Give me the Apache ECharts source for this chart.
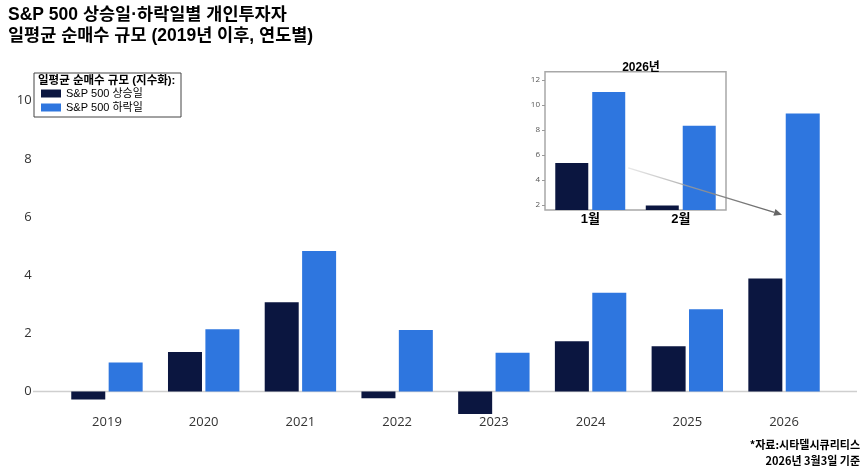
<!DOCTYPE html>
<html>
<head>
<meta charset="utf-8">
<script src="https://cdn.jsdelivr.net/npm/echarts@6/dist/echarts.min.js"></script>
<style>
html,body{margin:0;padding:0;background:#fff;}
#main{width:866px;height:467px;}
</style>
</head>
<body>
<div id="main"></div>
<script>
// ---- data ----
const years = ['2019','2020','2021','2022','2023','2024','2025','2026'];
const upDays = [-0.27, 1.36, 3.07, -0.23, -0.77, 1.73, 1.56, 3.89];
const downDays = [1.00, 2.14, 4.83, 2.12, 1.33, 3.40, 2.83, 9.56];
const months2026 = ['1월','2월'];
const upDays2026 = [5.36, 1.95];
const downDays2026 = [11.04, 8.34];
const mainTicks = [0, 2, 4, 6, 8, 10];
const insetTicks = [2, 4, 6, 8, 10, 12];
const seriesNames = ['S&P 500 상승일', 'S&P 500 하락일'];

const DARK = '#0b1640';
const BLUE = '#2e76df';
const FONT = "'Open Sans','Noto Sans CJK KR',sans-serif";
const TFONT = "'Liberation Sans','Noto Sans CJK KR',sans-serif";

const chart = echarts.init(document.getElementById('main'), null, {renderer:'canvas'});

const option = {
  backgroundColor: '#fff',
  animation: false,
  title: [
    {
      text: 'S&P 500 상승일·하락일별 개인투자자\n일평균 순매수 규모 (2019년 이후, 연도별)',
      left: 3, top: 0,
      textStyle: {fontFamily: TFONT, fontSize: 17.5, fontWeight: 'bold', color: '#000', lineHeight: 21}
    },
    {
      text: '2026년',
      left: 636, top: 57, textAlign: 'center',
      textStyle: {fontFamily: TFONT, fontSize: 12, fontWeight: 'bold', color: '#000'}
    }
  ],
  legend: {
    data: seriesNames,
    orient: 'vertical',
    left: 41, top: 88,
    itemWidth: 20, itemHeight: 8, itemGap: 3,
    icon: 'rect',
    padding: 0,
    textStyle: {fontFamily: TFONT, fontSize: 11, color: '#000'}
  },
  grid: [
    {left: 58.6, right: 33.6, top: 42.6, bottom: 52.2, outerBoundsMode: 'none', containLabel: false},
    {left: 545, right: 140, top: 71.7, bottom: 257, outerBoundsMode: 'none', containLabel: false, show: true, borderColor: '#a8a8a8', borderWidth: 1.5, backgroundColor: '#fff', z: 5}
  ],
  xAxis: [
    {
      type: 'category', data: years, gridIndex: 0,
      axisLine: {show: false},
      axisTick: {show: false},
      axisLabel: {fontFamily: FONT, fontSize: 13, color: '#333', margin: 1}
    },
    {
      type: 'category', data: months2026, gridIndex: 1,
      axisLine: {show: false},
      axisTick: {show: false},
      axisLabel: {fontFamily: TFONT, fontSize: 13, fontWeight: 'bold', color: '#000', margin: 3},
      z: 6
    }
  ],
  yAxis: [
    {
      type: 'value', gridIndex: 0, min: -0.8, max: 12,
      axisLine: {show: false}, axisTick: {show: false}, splitLine: {show: false},
      axisLabel: {fontFamily: FONT, fontSize: 13, color: '#333', margin: 27, customValues: mainTicks}
    },
    {
      type: 'value', gridIndex: 1, min: 1.6, max: 12.66,
      axisLine: {show: false},
      axisTick: {show: true, length: 3, lineStyle: {color: '#999'}, customValues: insetTicks},
      splitLine: {show: false},
      axisLabel: {fontFamily: FONT, fontSize: 8, color: '#555', margin: 5, customValues: insetTicks},
      z: 6
    }
  ],
  series: [
    {name: seriesNames[0], type: 'bar', data: upDays, xAxisIndex: 0, yAxisIndex: 0, barWidth: 34, barGap: '10%', itemStyle: {color: DARK}},
    {name: seriesNames[1], type: 'bar', data: downDays, xAxisIndex: 0, yAxisIndex: 0, barWidth: 34, barGap: '10%', itemStyle: {color: BLUE}},
    {name: seriesNames[0], type: 'bar', data: upDays2026, xAxisIndex: 1, yAxisIndex: 1, barWidth: 33, barGap: '12%', itemStyle: {color: DARK}, z: 6, clip: true},
    {name: seriesNames[1], type: 'bar', data: downDays2026, xAxisIndex: 1, yAxisIndex: 1, barWidth: 33, barGap: '12%', itemStyle: {color: BLUE}, z: 6, clip: true}
  ]
};
chart.setOption(option);

// annotations computed from the axes
const zeroY = chart.convertToPixel({xAxisIndex: 0, yAxisIndex: 0}, ['2019', 0])[1];
const start = chart.convertToPixel({xAxisIndex: 1, yAxisIndex: 1}, ['1월', 4.96]);
start[0] += 38;
const end = chart.convertToPixel({xAxisIndex: 0, yAxisIndex: 0}, ['2026', 6.08]);
end[0] -= 2;
const dx = end[0]-start[0], dy = end[1]-start[1];
const L = Math.sqrt(dx*dx+dy*dy), ux = dx/L, uy = dy/L;
const hl = 8, hw = 3.5;
const bx = end[0]-ux*hl, by = end[1]-uy*hl;

chart.setOption({
  graphic: [
    {type: 'line', z: 1, shape: {x1: 33, y1: zeroY, x2: 857, y2: zeroY}, style: {stroke: '#cfcfcf', lineWidth: 1.5}},
    {type: 'rect', z: 0, shape: {x: 34, y: 73, width: 147, height: 44}, style: {fill: '#fff', stroke: '#444', lineWidth: 1}},
    {type: 'text', z: 10, left: 38, top: 75, style: {text: '일평균 순매수 규모 (지수화):', font: "bold 11.5px 'Liberation Sans','Noto Sans CJK KR'", fill: '#000'}},
    {type: 'line', z: 10, shape: {x1: start[0], y1: start[1], x2: bx, y2: by},
      style: {lineWidth: 1.3, stroke: {type: 'linear', x: 0, y: 0, x2: 1, y2: 0, colorStops: [{offset: 0, color: 'rgba(200,200,200,0.4)'}, {offset: 0.6, color: '#888'}, {offset: 1, color: '#666'}]}}},
    {type: 'polygon', z: 10, shape: {points: [[end[0], end[1]], [bx - uy*hw, by + ux*hw], [bx + uy*hw, by - ux*hw]]}, style: {fill: '#666'}},
    {type: 'text', z: 10, right: 6, top: 437, style: {text: '*자료:시타델시큐리티스\n2026년 3월3일 기준', textAlign: 'right', font: "bold 11px 'Noto Sans CJK KR'", fill: '#000', lineHeight: 16}}
  ]
});
</script>
</body>
</html>
